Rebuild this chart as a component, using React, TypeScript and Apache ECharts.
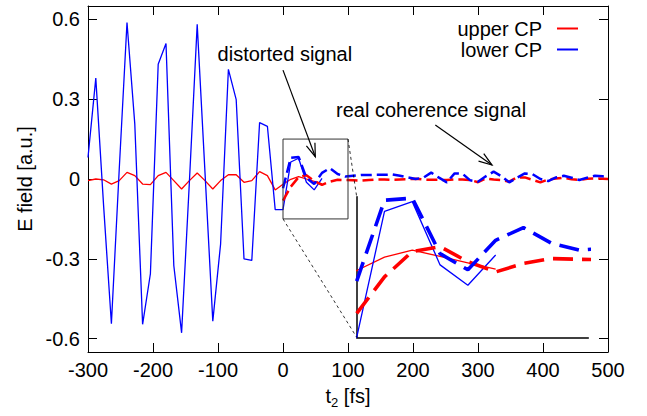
import React, { useEffect, useRef } from "react";
import * as echarts from "echarts";

// time axis (fs)
const tSolid = [-300, -288, -276, -264, -252, -240, -228, -216, -204, -192, -180, -168, -156, -144, -132, -120, -108, -96, -84, -72, -60, -48, -36, -24, -12, 0, 12, 24, 36, 48, 60];
const lowerSolid = [0.081, 0.379, -0.1, -0.544, 0.034, 0.588, 0.206, -0.546, -0.356, 0.431, 0.509, -0.325, -0.578, -0.01, 0.581, 0.024, -0.534, -0.244, 0.412, 0.298, -0.3, -0.306, 0.212, 0.198, -0.115, -0.115, 0.064, 0.078, -0.012, -0.041, 0.002];
const upperSolid = [-0.006, 0.0, -0.003, -0.019, -0.006, 0.025, 0.0125, -0.019, -0.021, 0.0125, 0.025, -0.006, -0.0375, -0.006, 0.0225, -0.006, -0.0375, -0.006, 0.016, 0.016, -0.0125, -0.006, 0.0275, 0.0125, -0.041, -0.02, -0.001, 0.009, 0.0, -0.009, -0.018];

const tDashed = [0, 12, 24, 36, 48, 60, 72, 84, 96, 108, 120, 132, 144, 156, 168, 180, 192, 204, 216, 228, 240, 252, 264, 276, 288, 300, 312, 324, 336, 348, 360, 372, 384, 396, 408, 420, 432, 444, 456, 468, 480, 492, 500];
const lowerDashed = [-0.035, 0.08, 0.083, 0.004, -0.019, 0.023, 0.041, 0.019, 0.009, 0.012, 0.015, 0.015, 0.016, 0.016, 0.017, 0.012, 0.006, 0.0, 0.005, 0.024, 0.005, -0.0125, 0.021, 0.02, -0.005, -0.01, 0.01, 0.0275, 0.01, -0.0125, 0.005, 0.021, 0.018, 0.0, -0.008, 0.006, 0.012, 0.005, -0.004, 0.005, 0.012, 0.01, 0.008];
const upperDashed = [-0.081, -0.029, 0.007, 0.014, -0.0075, -0.022, -0.01, -0.003, -0.004, -0.005, -0.006, -0.004, -0.002, -0.002, -0.003, -0.002, -0.001, 0.001, -0.002, -0.003, -0.003, -0.004, -0.002, -0.002, -0.004, -0.012, 0.002, -0.002, -0.004, -0.01, 0.006, 0.006, -0.003, -0.0125, -0.002, 0.002, 0.005, -0.001, -0.004, 0.001, 0.002, 0.001, 0.0];

const yTicks = [-0.6, -0.3, 0, 0.3, 0.6];
const xRange = [-300, 500];
const yRange = [-0.65, 0.65];
const zoomBoxX = [0, 100];
const zoomBoxY = [-0.15, 0.15];
const insetY = [-0.115, 0.085];

const annotations = [
  { text: "distorted signal", at: [-100.6, 0.471], from: [0, 0.409], to: [49.7, 0.0836] },
  { text: "real coherence signal", at: [81.5, 0.2587], from: [234.3, 0.2025], to: [321.5, 0.0525] },
];

const FONT = "'Liberation Sans', Arial, Helvetica, sans-serif";
const RED = "#ff0000";
const BLUE = "#0000ff";

const zip = (xs: number[], ys: number[]) => xs.map((x, i) => [x, ys[i]]);

export default function App() {
  const ref = useRef<HTMLDivElement>(null);
  useEffect(() => {
    const chart = echarts.init(ref.current!, null, { renderer: "svg" });
    const axisLine = { show: true, onZero: false, lineStyle: { color: "#000", width: 1 } };
    const tick = { show: true, inside: true, length: 9, lineStyle: { color: "#000", width: 1 } };
    const mainX = {
      type: "value", gridIndex: 0, min: xRange[0], max: xRange[1], interval: 100,
      splitLine: { show: false }, axisLine, axisTick: tick,
    };
    const mainY = {
      type: "value", gridIndex: 0, min: yRange[0], max: yRange[1],
      splitLine: { show: false }, axisLine,
      axisTick: { ...tick, customValues: yTicks },
    };
    const line = (name: string, xs: number[], ys: number[], color: string, width: number, dash: any, xi: number, yi: number) => ({
      type: "line", name, data: zip(xs, ys), xAxisIndex: xi, yAxisIndex: yi,
      symbol: "none", showSymbol: false, clip: true, silent: true,
      lineStyle: { color, width, type: dash },
      itemStyle: { color },
    });
    const option: any = {
      animation: false,
      backgroundColor: "#fff",
      grid: [
        { left: 88, top: 6, width: 520, height: 346 },
        { left: 356.7, top: 196.7, width: 231.6, height: 140.6 },
      ],
      xAxis: [
        {
          ...mainX, position: "bottom",
          axisLabel: { show: true, fontSize: 20, fontFamily: FONT, color: "#000", margin: 8 },
          name: "{n|t}{s|2}{n| [fs]}", nameLocation: "middle", nameGap: 30,
          nameTextStyle: {
            rich: {
              n: { fontSize: 20, fontFamily: FONT, color: "#000" },
              s: { fontSize: 13, fontFamily: FONT, color: "#000", padding: [14, 0, 0, 0] },
            },
          },
        },
        { ...mainX, position: "top", axisLabel: { show: false } },
        {
          type: "value", gridIndex: 1, min: zoomBoxX[0], max: zoomBoxX[1],
          splitLine: { show: false }, axisTick: { show: false }, axisLabel: { show: false },
          axisLine: { show: true, onZero: false, lineStyle: { color: "#000", width: 1.5 } },
        },
      ],
      yAxis: [
        {
          ...mainY, position: "left",
          axisLabel: {
            show: true, customValues: yTicks, fontSize: 20, fontFamily: FONT, color: "#000", margin: 8,
            formatter: (v: number) => (Math.abs(v) < 1e-9 ? "0" : v.toFixed(1)),
          },
          name: "E field [a.u.]", nameLocation: "middle", nameGap: 52,
          nameTextStyle: { fontSize: 20, fontFamily: FONT, color: "#000" },
        },
        { ...mainY, position: "right", axisLabel: { show: false } },
        {
          type: "value", gridIndex: 1, min: insetY[0], max: insetY[1],
          splitLine: { show: false }, axisTick: { show: false }, axisLabel: { show: false },
          axisLine: { show: true, onZero: false, lineStyle: { color: "#000", width: 1.5 } },
        },
      ],
      legend: {
        data: [
          { name: "upper CP", icon: "rect" },
          { name: "lower CP", icon: "rect" },
        ],
        orient: "vertical", align: "right", right: 64, top: 13,
        itemWidth: 21, itemHeight: 2, itemGap: 0, selectedMode: false,
        itemStyle: { borderWidth: 0 },
        textStyle: { fontSize: 20, fontFamily: FONT, color: "#000", lineHeight: 21, padding: [0, 10, 0, 0] },
      },
      series: [
        line("upper CP", tSolid, upperSolid, RED, 1.3, "solid", 0, 0),
        line("lower CP", tSolid, lowerSolid, BLUE, 1.3, "solid", 0, 0),
        line("upper CP t>0", tDashed, upperDashed, RED, 2.5, [11, 5], 0, 0),
        line("lower CP t>0", tDashed, lowerDashed, BLUE, 2.5, [11, 5], 0, 0),
        line("upper CP inset", tSolid, upperSolid, RED, 1.3, "solid", 2, 2),
        line("lower CP inset", tSolid, lowerSolid, BLUE, 1.3, "solid", 2, 2),
        line("upper CP t>0 inset", tDashed, upperDashed, RED, 3.6, [20, 9], 2, 2),
        line("lower CP t>0 inset", tDashed, lowerDashed, BLUE, 3.6, [20, 9], 2, 2),
      ],
    };
    chart.setOption(option);

    const pm = (p: number[]) => chart.convertToPixel({ seriesIndex: 0 }, p) as number[];
    const pi = (p: number[]) => chart.convertToPixel({ seriesIndex: 4 }, p) as number[];
    const graphics: any[] = [];
    const b0 = pm([zoomBoxX[0], zoomBoxY[1]]);
    const b1 = pm([zoomBoxX[1], zoomBoxY[0]]);
    graphics.push({
      type: "rect", shape: { x: b0[0], y: b0[1], width: b1[0] - b0[0], height: b1[1] - b0[1] },
      style: { fill: "none", stroke: "#333", lineWidth: 1 }, z: 10,
    });
    const c1a = pm([zoomBoxX[0], zoomBoxY[0]]);
    const c1b = pi([zoomBoxX[0], insetY[0]]);
    const c2a = pm([zoomBoxX[1], zoomBoxY[1]]);
    const c2b = pi([zoomBoxX[0], insetY[1]]);
    [[c1a, c1b], [c2a, c2b]].forEach(([a, b]) =>
      graphics.push({
        type: "line", shape: { x1: a[0], y1: a[1], x2: b[0], y2: b[1] },
        style: { stroke: "#000", lineWidth: 0.8, lineDash: [3, 3] }, z: 10,
      })
    );
    annotations.forEach((an) => {
      const t = pm(an.at);
      graphics.push({
        type: "text", x: t[0], y: t[1], z: 10,
        style: { text: an.text, fill: "#000", fontSize: 20, fontFamily: FONT, align: "left", verticalAlign: "middle" },
      });
      const a = pm(an.from);
      const b = pm(an.to);
      graphics.push({
        type: "line", shape: { x1: a[0], y1: a[1], x2: b[0], y2: b[1] },
        style: { stroke: "#000", lineWidth: 1.2 }, z: 10,
      });
      const ang = Math.atan2(b[1] - a[1], b[0] - a[0]);
      const L = 14, w = 0.33;
      graphics.push({
        type: "polyline",
        shape: {
          points: [
            [b[0] - L * Math.cos(ang - w), b[1] - L * Math.sin(ang - w)],
            [b[0], b[1]],
            [b[0] - L * Math.cos(ang + w), b[1] - L * Math.sin(ang + w)],
          ],
        },
        style: { stroke: "#000", lineWidth: 1.2, fill: "none" }, z: 10,
      });
    });
    chart.setOption({ graphic: graphics });
    return () => chart.dispose();
  }, []);
  return <div ref={ref} style={{ position: "absolute", left: 0, top: 0, width: 647, height: 416 }} />;
}
